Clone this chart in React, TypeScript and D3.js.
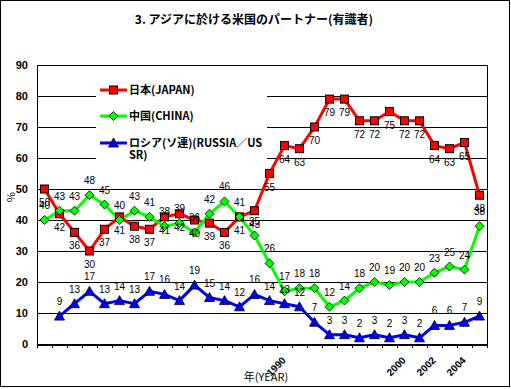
import React from 'react';
import * as d3 from 'd3';

const title = '3. アジアに於ける米国のパートナー(有識者)';
const seriesNames = ['日本(JAPAN)', '中国(CHINA)', 'ロシア(ソ連)(RUSSIA／US|SR)'];
const yearLabels = ['', '', '', '', '', '', '', '', '', '', '', '', '', '', '', '', '1990', '', '', '', '', '', '', '', '2000', '', '2002', '', '2004', ''];
const japan: (number | null)[] = [50, 42, 36, 30, 37, 41, 38, 37, 41, 42, 40, 39, 36, 41, 43, 55, 64, 63, 70, 79, 79, 72, 72, 75, 72, 72, 64, 63, 65, 48];
const china: (number | null)[] = [40, 43, 43, 48, 45, 40, 43, 41, 38, 39, 36, 42, 46, 41, 35, 26, 17, 18, 18, 12, 14, 18, 20, 19, 20, 20, 23, 25, 24, 38];
const russia: (number | null)[] = [null, 9, 13, 17, 13, 14, 13, 17, 16, 14, 19, 15, 14, 12, 16, 14, 13, 12, 7, 3, 3, 2, 3, 2, 3, 2, 6, 6, 7, 9];
const yTicks = [0, 10, 20, 30, 40, 50, 60, 70, 80, 90];

const W = 511, H = 389;
const L = 37, R = 487, T = 65, B = 344;

export default function App() {
  const x = d3.scaleBand<number>().domain(d3.range(yearLabels.length)).range([L, R]);
  const cx = (i: number) => (x(i) as number) + x.bandwidth() / 2;
  const y = d3.scaleLinear().domain([0, 90]).range([B, T]);
  const line = d3.line<number | null>()
    .defined(d => d != null)
    .x((_, i) => cx(i))
    .y(d => y(d as number));

  const cjk = '"Noto Sans CJK JP", "Liberation Sans", sans-serif';
  const lab = '"Liberation Sans", Arial, sans-serif';

  const square = (px: number, py: number, k: string) => (
    <rect key={k} x={px - 4} y={py - 4} width={8} height={8} fill="#FF0000" stroke="#000" strokeWidth={1} />
  );
  const diamond = (px: number, py: number, k: string) => (
    <path key={k} d={`M${px},${py - 4.5}L${px + 4.5},${py}L${px},${py + 4.5}L${px - 4.5},${py}Z`} fill="#00FF00" stroke="#000" strokeWidth={0.8} />
  );
  const triangle = (px: number, py: number, k: string) => (
    <path key={k} d={`M${px},${py - 5}L${px + 5},${py + 4}L${px - 5},${py + 4}Z`} fill="#0000FF" stroke="#000" strokeWidth={0.8} />
  );

  const series = [
    { data: japan, color: '#FF0000', marker: square, dy: 17 },
    { data: china, color: '#00FF00', marker: diamond, dy: -11 },
    { data: russia, color: '#0000FF', marker: triangle, dy: -11 },
  ];

  const legendY = [90, 116, 143];

  return (
    <svg width={W} height={H} style={{ position: 'absolute', left: 0, top: 0, background: '#fff' }}>
      <rect x={0.5} y={0.5} width={509} height={386} fill="#fff" stroke="#000" strokeWidth={1} />
      <text x={254} y={24} textAnchor="middle" fontFamily={cjk} fontWeight="bold" fontSize={12}>{title}</text>

      {/* gridlines */}
      {yTicks.filter(t => t > 0 && t < 90).map(t => (
        <line key={t} x1={L} x2={R} y1={Math.round(y(t)) + 0.5} y2={Math.round(y(t)) + 0.5} stroke="#000" strokeWidth={1} />
      ))}
      <rect x={L + 0.5} y={T + 0.5} width={R - L} height={B - T} fill="none" stroke="#000" strokeWidth={1} />
      <line x1={L} x2={R + 1} y1={B + 1} y2={B + 1} stroke="#000" strokeWidth={2} />
      {d3.range(yearLabels.length + 1).map(i => {
        const px = Math.round(L + i * x.bandwidth()) + 0.5;
        return <line key={'tk' + i} x1={px} x2={px} y1={B + 1} y2={B + 4} stroke="#000" strokeWidth={1} />;
      })}

      {/* y tick labels */}
      {yTicks.map(t => (
        <text key={'yt' + t} x={28} y={y(t) + 4} textAnchor="end" fontFamily={lab} fontWeight="bold" fontSize={11}>{t}</text>
      ))}
      <text transform={`translate(7,197) rotate(90)`} textAnchor="middle" fontFamily={cjk} fontSize={11}>%</text>

      {/* legend background */}
      <rect x={96} y={72} width={171} height={96} fill="#fff" />

      {/* series lines */}
      {series.map((s, si) => (
        <path key={'l' + si} d={line(s.data) || ''} fill="none" stroke={s.color} strokeWidth={3} strokeLinejoin="round" />
      ))}
      {series.map((s, si) => (
        <g key={'m' + si}>
          {s.data.map((v, i) => v == null ? null : s.marker(cx(i), y(v), `${si}-${i}`))}
        </g>
      ))}
      {series.map((s, si) => (
        <g key={'t' + si}>
          {s.data.map((v, i) => v == null ? null : (
            <text key={i} x={cx(i)} y={y(v) + s.dy} textAnchor="middle" fontFamily={lab} fontSize={10}>{v}</text>
          ))}
        </g>
      ))}

      {/* x labels */}
      {yearLabels.map((lbl, i) => lbl ? (
        <text key={'x' + i} transform={`translate(${cx(i) + 2},361) rotate(-45)`} textAnchor="end" fontFamily={lab} fontWeight="bold" fontSize={10}>{lbl}</text>
      ) : null)}
      <text x={266} y={381} textAnchor="middle" fontFamily={cjk} fontSize={11}>年(YEAR)</text>

      {/* legend */}
      {series.map((s, si) => {
        const ly = legendY[si];
        const parts = seriesNames[si].split('|');
        return (
          <g key={'lg' + si}>
            <line x1={100} x2={127} y1={ly} y2={ly} stroke={s.color} strokeWidth={3} />
            {s.marker(113.5, ly, 'lm' + si)}
            {parts.map((p, pi) => (
              <text key={pi} x={129} y={ly + 4 + pi * 12} fontFamily={cjk} fontWeight="bold" fontSize={11}>{p}</text>
            ))}
          </g>
        );
      })}
    </svg>
  );
}
